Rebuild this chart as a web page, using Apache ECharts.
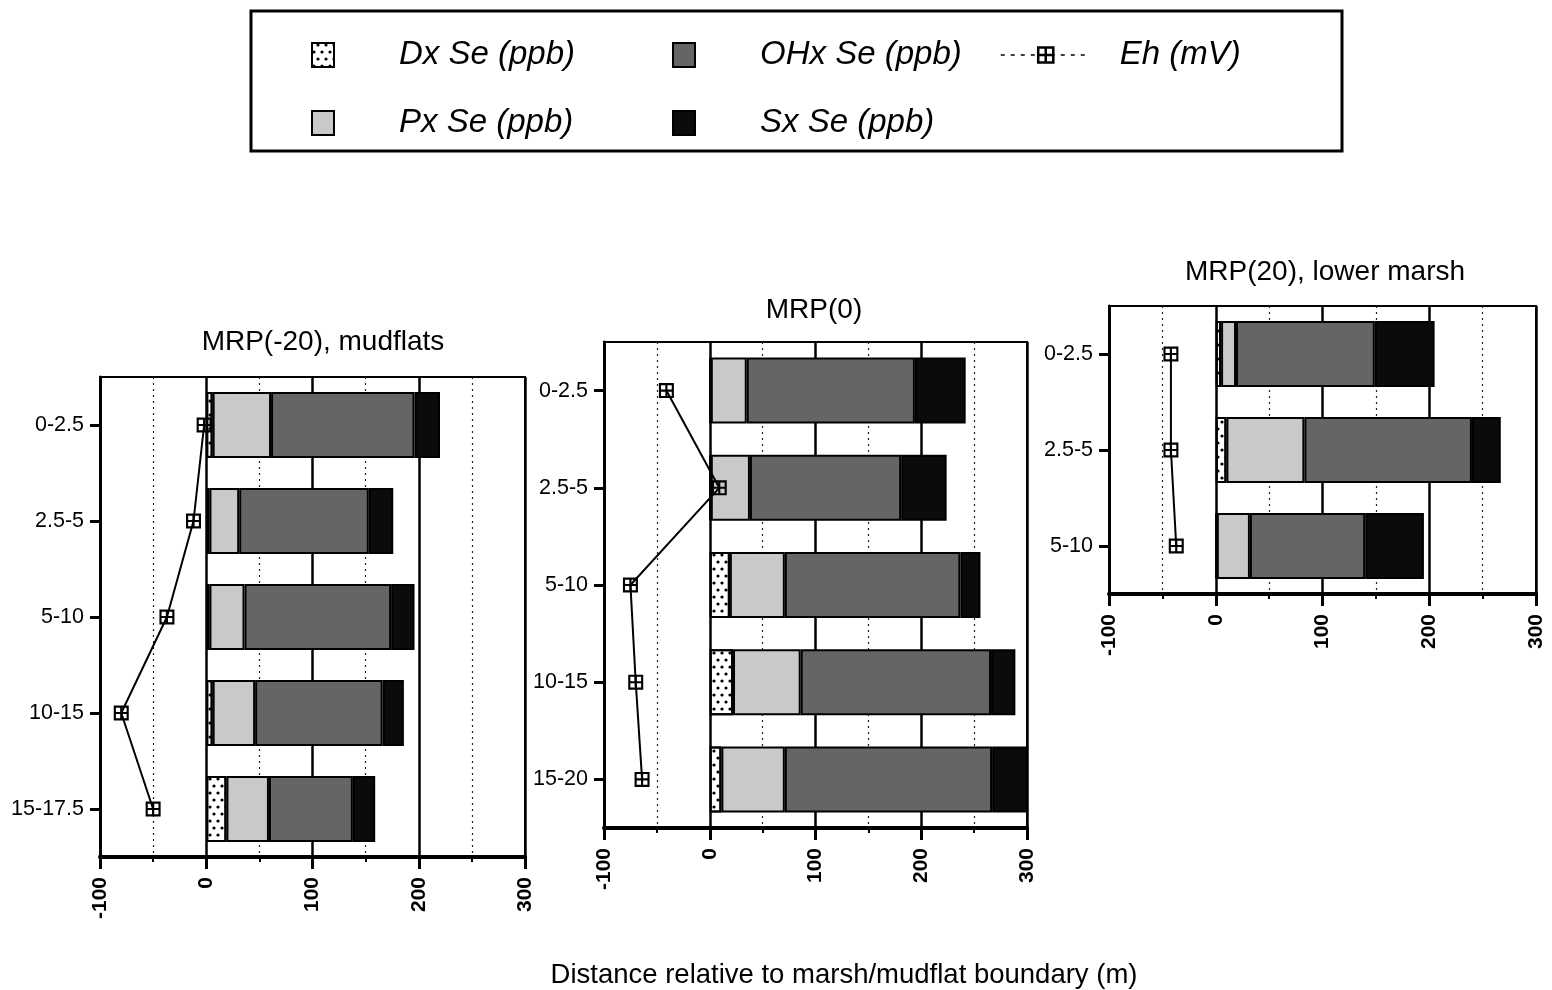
<!DOCTYPE html>
<html>
<head>
<meta charset="utf-8">
<script src="https://cdn.jsdelivr.net/npm/echarts@6/dist/echarts.min.js"></script>
<style>
  html, body { margin: 0; padding: 0; background: #fff; }
  #chart { width: 1552px; height: 990px; }
</style>
</head>
<body>
<div id="chart"></div>
<script>
// Selenium fractions (ppb) and Eh (mV) by depth interval for three marsh transect profiles
const depths1 = ['0-2.5', '2.5-5', '5-10', '10-15', '15-17.5'];
const dx1 = [6, 3, 3, 6, 19];
const px1 = [55, 28, 33, 40, 40];
const oh1 = [135, 122, 138, 120, 79];
const sx1 = [24, 23, 22, 20, 21];
const eh1 = [-2, -12, -37, -80, -50];

const depths2 = ['0-2.5', '2.5-5', '5-10', '10-15', '15-20'];
const dx2 = [1, 1, 19, 22, 11];
const px2 = [34, 37, 52, 64, 60];
const oh2 = [159, 143, 166, 180, 196];
const sx2 = [48, 43, 19, 23, 35];
const eh2 = [-41, 9, -75, -70, -64];

const depths3 = ['0-2.5', '2.5-5', '5-10'];
const dx3 = [5, 10, 1];
const px3 = [14, 73, 31];
const oh3 = [130, 157, 108];
const sx3 = [56, 27, 55];
const eh3 = [-42, -42, -37];

const panelTitles = ['MRP(-20), mudflats', 'MRP(0)', 'MRP(20), lower marsh'];
const axisTitle = 'Distance relative to marsh/mudflat boundary (m)';
const names = ['Dx Se (ppb)', 'Px Se (ppb)', 'OHx Se (ppb)', 'Sx Se (ppb)', 'Eh (mV)'];

const FONT = 'Liberation Sans';

const panels = [
  { cats: depths1, dx: dx1, px: px1, oh: oh1, sx: sx1, eh: eh1,
    grid: { left: 100, top: 377, width: 425, height: 480 }, titleX: 318, titleY: 323 },
  { cats: depths2, dx: dx2, px: px2, oh: oh2, sx: sx2, eh: eh2,
    grid: { left: 604, top: 342, width: 423, height: 486 }, titleX: 809, titleY: 291 },
  { cats: depths3, dx: dx3, px: px3, oh: oh3, sx: sx3, eh: eh3,
    grid: { left: 1109, top: 306, width: 427, height: 288 }, titleX: 1320, titleY: 253 }
];

// square marker with a cross through it (holes cut by opposite winding)
const crossBox = 'path://M0,0H14V14H0Z M2,2V6H6V2Z M8,2V6H12V2Z M2,8V12H6V8Z M8,8V12H12V8Z';

const fills = [
  { color: '#ffffff', decal: { symbol: 'circle', symbolSize: 0.8, color: '#000',
      dashArrayX: [[4, 4], [0, 4, 4, 0]], dashArrayY: [4, 3] } },
  { color: '#c9c9c9' },
  { color: '#656565' },
  { color: '#0b0b0b' }
];

const grids = [], xAxes = [], yAxes = [], series = [], titles = [];

panels.forEach((p, i) => {
  grids.push(Object.assign({ show: true, backgroundColor: '#fff', borderColor: '#000', borderWidth: 2 }, p.grid));
  xAxes.push({
    gridIndex: i, type: 'value', min: -100, max: 300, interval: 100,
    axisLine: { show: true, onZero: false, lineStyle: { color: '#000', width: 4 } },
    axisTick: { show: true, length: 12, lineStyle: { color: '#000', width: 3 } },
    minorTick: { show: true, splitNumber: 2, length: 5, lineStyle: { color: '#000', width: 2 } },
    splitLine: { show: true, lineStyle: { color: '#000', width: 2.5 } },
    minorSplitLine: { show: true, lineStyle: { color: '#222', width: 1.2, type: [2, 4] } },
    axisLabel: { rotate: 90, margin: 20, fontFamily: FONT, fontWeight: 'bold', fontSize: 21, color: '#000' }
  });
  yAxes.push({
    gridIndex: i, type: 'category', data: p.cats, inverse: true,
    axisLine: { show: true, onZero: false, lineStyle: { color: '#000', width: 3 } },
    axisTick: { show: true, alignWithLabel: true, length: 10, lineStyle: { color: '#000', width: 3 } },
    splitLine: { show: false },
    axisLabel: { margin: 16, fontFamily: FONT, fontSize: 21.5, color: '#000' }
  });
  titles.push({
    text: panelTitles[i], left: p.titleX, top: p.titleY, textAlign: 'center',
    textStyle: { fontFamily: FONT, fontWeight: 'normal', fontSize: 28, color: '#000' }
  });
  [p.dx, p.px, p.oh, p.sx].forEach((vals, k) => {
    series.push({
      type: 'bar', name: names[k], xAxisIndex: i, yAxisIndex: i, stack: 'se' + i,
      data: vals, barWidth: 66, silent: true,
      itemStyle: Object.assign({ borderColor: '#000', borderWidth: 2 }, fills[k]),
      emphasis: { disabled: true }
    });
  });
  series.push({
    type: 'line', name: names[4], xAxisIndex: i, yAxisIndex: i, data: p.eh,
    symbol: crossBox, symbolSize: 15, showAllSymbol: true, silent: true, z: 5,
    lineStyle: { color: '#000', width: 2 },
    itemStyle: { color: '#000' },
    emphasis: { disabled: true }
  });
});

titles.push({
  text: axisTitle, left: 839, top: 956, textAlign: 'center',
  textStyle: { fontFamily: FONT, fontWeight: 'normal', fontSize: 27.5, color: '#000' }
});

const legendText = { fontFamily: FONT, fontStyle: 'italic', fontSize: 33, color: '#000', lineHeight: 36 };

const option = {
  backgroundColor: '#fff',
  animation: false,
  title: titles,
  graphic: [{
    type: 'rect', z: -1, silent: true,
    shape: { x: 251, y: 11, width: 1091, height: 140 },
    style: { fill: '#fff', stroke: '#000', lineWidth: 3 }
  }],
  legend: [
    { data: [names[0], names[1]], left: 306, top: 32, orient: 'vertical', itemGap: 32,
      itemWidth: 22, itemHeight: 24, icon: 'rect', selectedMode: false,
      textStyle: Object.assign({ padding: [0, 0, 0, 60] }, legendText) },
    { data: [names[2], names[3]], left: 667, top: 32, orient: 'vertical', itemGap: 32,
      itemWidth: 22, itemHeight: 24, icon: 'rect', selectedMode: false,
      textStyle: Object.assign({ padding: [0, 0, 0, 60] }, legendText) },
    { data: [names[4]], left: 995, top: 32, orient: 'vertical',
      itemWidth: 90, itemHeight: 22, selectedMode: false,
      lineStyle: { type: [4, 6], width: 1.5 },
      textStyle: Object.assign({ padding: [0, 0, 0, 24] }, legendText) }
  ],
  grid: grids,
  xAxis: xAxes,
  yAxis: yAxes,
  series: series
};

const chart = echarts.init(document.getElementById('chart'), null, { renderer: 'canvas' });
chart.setOption(option);
</script>
</body>
</html>
